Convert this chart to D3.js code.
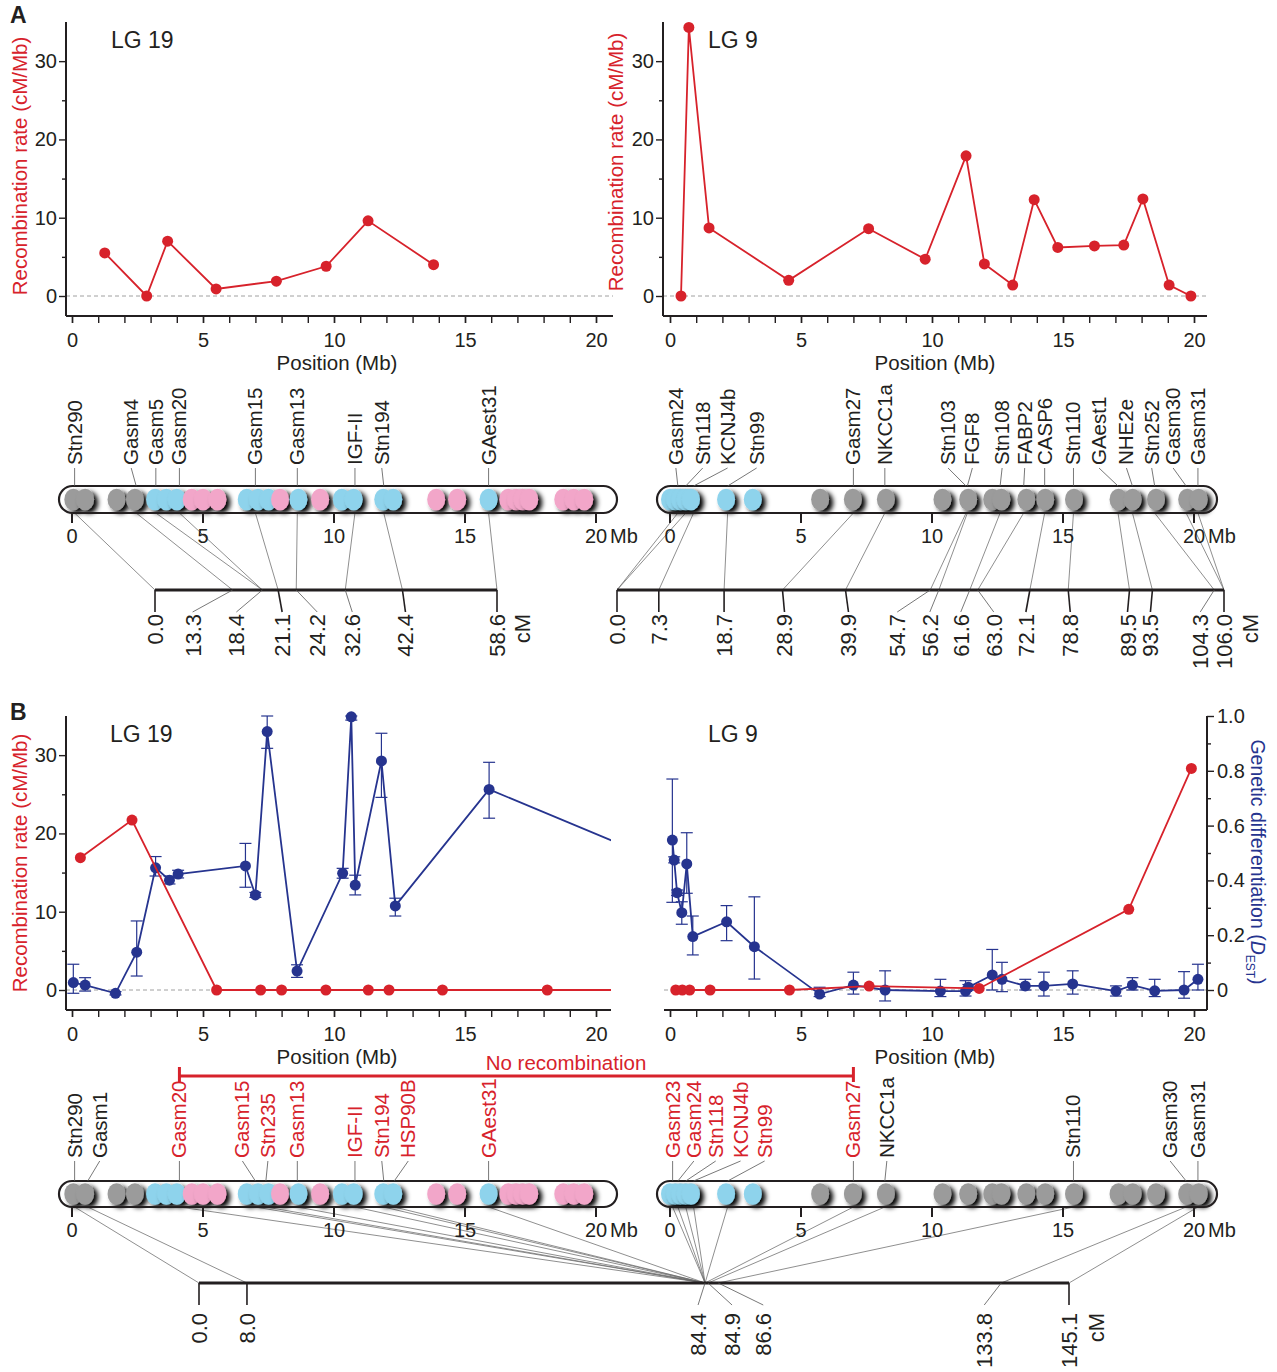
<!DOCTYPE html>
<html>
<head>
<meta charset="utf-8">
<title>Recombination and differentiation along LG19 and LG9</title>
<script src="https://cdn.jsdelivr.net/npm/d3@7/dist/d3.min.js"></script>
<style>
  html, body { margin: 0; padding: 0; background: #fff; }
  svg text { font-family: "Liberation Sans", Arial, Helvetica, sans-serif; fill: #231f20; }
</style>
</head>
<body>
<svg id="fig" width="1277" height="1372"></svg>
<script>
// ---------------- tick values ----------------
const MB_TICKS = [0, 5, 10, 15, 20];
const MB_MINOR = d3.range(0, 21, 1);
const RATE_TICKS = [0, 10, 20, 30];
const RATE_MINOR = [5, 15, 25];
const DEST_TICKS = [0, 0.2, 0.4, 0.6, 0.8, 1.0];
const DEST_MINOR = [0.1, 0.3, 0.5, 0.7, 0.9];

// ---------------- cross A: recombination rate (cM/Mb) ----------------
const lg19RateAPos = [1.25, 2.85, 3.65, 5.5, 7.8, 9.7, 11.3, 13.8];
const lg19RateAVal = [5.5, 0.0, 7.0, 0.9, 1.9, 3.8, 9.6, 4.0];
const lg9RateAPos = [0.42, 0.72, 1.49, 4.53, 7.58, 9.74, 11.3, 12.0, 13.08, 13.9, 14.8, 16.2, 17.32, 18.05, 19.05, 19.88];
const lg9RateAVal = [0.0, 34.3, 8.7, 2.0, 8.6, 4.7, 17.9, 4.1, 1.4, 12.3, 6.2, 6.4, 6.5, 12.4, 1.4, 0.0];

// ---------------- cross B: recombination rate (cM/Mb) ----------------
const lg19RateBPos = [0.32, 2.29, 5.52, 7.2, 8.0, 9.69, 11.31, 12.1, 14.14, 18.14, 22.0];
const lg19RateBVal = [16.9, 21.7, 0, 0, 0, 0, 0, 0, 0, 0, 0];
const lg9RateBPos = [0.22, 0.47, 0.75, 1.53, 4.56, 7.6, 11.8, 17.51, 19.9];
const lg9RateBVal = [0, 0, 0, 0, 0, 0.5, 0.2, 10.3, 28.3];

// ---------------- cross B: genetic differentiation D_EST (mean, lower, upper) ----------------
const lg19DestPos = [0.05, 0.5, 1.66, 2.47, 3.19, 3.72, 4.05, 6.62, 7.0, 7.45, 8.59, 10.33, 10.66, 10.81, 11.81, 12.34, 15.92, 22.0];
const lg19DestVal = [0.027, 0.018, -0.012, 0.138, 0.446, 0.401, 0.423, 0.453, 0.347, 0.943, 0.069, 0.426, 0.997, 0.383, 0.836, 0.307, 0.732, 0.49];
const lg19DestLo  = [-0.012, -0.004, -0.018, 0.051, 0.416, 0.387, 0.409, 0.375, 0.338, 0.882, 0.046, 0.408, 0.985, 0.347, 0.703, 0.270, 0.627, 0.49];
const lg19DestHi  = [0.094, 0.045, -0.006, 0.252, 0.487, 0.416, 0.437, 0.535, 0.356, 1.0, 0.092, 0.444, 1.0, 0.419, 0.937, 0.335, 0.831, 0.49];

const lg9DestPos = [0.09, 0.16, 0.27, 0.45, 0.64, 0.87, 2.16, 3.22, 5.71, 7.0, 8.21, 10.32, 11.28, 11.39, 12.3, 12.67, 13.56, 14.27, 15.37, 17.02, 17.65, 18.5, 19.62, 20.15];
const lg9DestVal = [0.547, 0.474, 0.355, 0.282, 0.46, 0.195, 0.249, 0.158, -0.015, 0.018, 0.0, -0.004, -0.004, 0.01, 0.055, 0.039, 0.015, 0.015, 0.022, -0.004, 0.018, -0.003, 0.0, 0.039];
const lg9DestLo  = [0.32, 0.464, 0.345, 0.24, 0.353, 0.128, 0.18, 0.04, -0.024, -0.015, -0.04, -0.024, -0.022, 0.0, 0.0, -0.006, 0.0, -0.022, -0.015, -0.022, 0.0, -0.024, -0.03, 0.0];
const lg9DestHi  = [0.77, 0.486, 0.365, 0.322, 0.574, 0.27, 0.308, 0.34, 0.01, 0.065, 0.07, 0.039, 0.034, 0.02, 0.148, 0.101, 0.039, 0.065, 0.07, 0.015, 0.045, 0.039, 0.067, 0.094];

// ---------------- physical maps: marker clusters (Mb, class) ----------------
const lg19BlobPos = [0.05, 0.5, 1.7, 2.4, 3.17, 3.6, 4.0, 4.57, 5.0, 5.55, 6.67, 7.1, 7.5, 7.94, 8.64, 9.47, 10.3, 10.75, 11.88, 12.26, 13.9, 14.7, 15.9, 16.65, 16.95, 17.2, 17.45, 18.75, 19.15, 19.55];
const lg19BlobType = ["n","n","n","n","b","b","b","p","p","p","b","b","b","p","b","p","b","b","b","b","p","p","b","p","p","p","p","p","p","p"];
const lg9BlobPos = [0.0, 0.2, 0.4, 0.6, 0.8, 2.14, 3.16, 5.73, 6.98, 8.24, 10.4, 11.38, 12.3, 12.65, 13.6, 14.32, 15.42, 17.12, 17.66, 18.55, 19.74, 20.18];
const lg9BlobType = ["b","b","b","b","b","b","b","n","n","n","n","n","n","n","n","n","n","n","n","n","n","n"];

// ---------------- cross A: markers, Mb position and map position (cM) ----------------
const lg19MarkersA = ["Stn290", "Gasm4", "Gasm5", "Gasm20", "Gasm15", "Gasm13", "IGF-II", "Stn194", "GAest31"];
const lg19MarkerMbA = [0.1, 2.45, 3.2, 4.1, 7.0, 8.6, 10.8, 11.9, 15.9];
const lg19MarkerCmA = [0.0, 13.3, 18.4, 18.4, 21.1, 24.2, 32.6, 42.4, 58.6];
const lg19CmTicksA = [0.0, 13.3, 18.4, 21.1, 24.2, 32.6, 42.4, 58.6];

const lg9MarkersA = ["Gasm24", "Stn118", "KCNJ4b", "Stn99", "Gasm27", "NKCC1a", "Stn103", "FGF8", "Stn108", "FABP2", "CASP6", "Stn110", "GAest1", "NHE2e", "Stn252", "Gasm30", "Gasm31"];
const lg9MarkerMbA = [0.3, 0.6, 0.9, 2.2, 7.0, 8.2, 11.3, 11.35, 12.6, 13.5, 14.3, 15.4, 17.1, 17.65, 18.5, 19.7, 20.15];
const lg9MarkerCmA = [0.0, 0.0, 7.3, 18.7, 28.9, 39.9, 54.7, 56.2, 61.6, 63.0, 72.1, 78.8, 89.5, 93.5, 104.3, 106.0, 106.0];
const lg9CmTicksA = [0.0, 7.3, 18.7, 28.9, 39.9, 54.7, 56.2, 61.6, 63.0, 72.1, 78.8, 89.5, 93.5, 104.3, 106.0];

// ---------------- cross B: markers (LG19 and LG9 form one linkage map) ----------------
const lg19MarkersB = ["Stn290", "Gasm1", "Gasm20", "Gasm15", "Stn235", "Gasm13", "IGF-II", "Stn194", "HSP90B", "GAest31"];
const lg19MarkerMbB = [0.1, 0.6, 4.1, 7.0, 7.4, 8.6, 10.8, 11.9, 12.3, 15.9];
const lg19MarkerCmB = [0.0, 8.0, 84.4, 84.4, 84.4, 84.4, 84.4, 84.4, 84.4, 84.4];
const lg19NoRecB = [false, false, true, true, true, true, true, true, true, true];

const lg9MarkersB = ["Gasm23", "Gasm24", "Stn118", "KCNJ4b", "Stn99", "Gasm27", "NKCC1a", "Stn110", "Gasm30", "Gasm31"];
const lg9MarkerMbB = [0.1, 0.3, 0.6, 0.9, 2.2, 7.0, 8.2, 15.4, 19.7, 20.15];
const lg9MarkerCmB = [84.4, 84.4, 84.4, 84.4, 84.4, 84.4, 84.9, 86.6, 133.8, 145.1];
const lg9NoRecB = [true, true, true, true, true, true, false, false, false, false];
const cmTicksB = [0.0, 8.0, 84.4, 84.9, 86.6, 133.8, 145.1];

// ---------------- layout: label offsets (px) to keep crowded labels readable ----------------
const lg19LabelNudgeA = [0, -5, 0, 0, 0, 0, 0, -2, 0];
const lg9LabelNudgeA = [-2, 17, 34, 29, 0, 0, -18, 5, 2, 1, 0, 0, -19, -6, -3, -13, 0];
const lg19CmNudgeA = [0, -40, -26, 4, 21, 7, 3, 0];
const lg9CmNudgeA = [0, 0, 0, 2, 3, -33, -9, -9, 16, -4, 2, -2, -2, -14, 0];
const lg19LabelNudgeB = [0, 12, 0, -13, 2, 0, 0, -2, 14, 0];
const lg9LabelNudgeB = [0, 16, 30, 47, 37, 0, 2, 0, -16, 0];
const cmNudgeB = [0, 0, -7, 24, 45, -17, 0];

// ---------------- styles ----------------
const RED = "#d7222b", BLUE = "#26348f", INK = "#231f20";
const BLOB_FILL = { n: "#9b9b9b", b: "#8ed3ec", p: "#f2a6c9" };
const FONT = "\"Liberation Sans\", Arial, Helvetica, sans-serif";

const svg = d3.select("#fig");
const defs = svg.append("defs");

// soft drop shading for the marker clusters
const shade = defs.append("filter").attr("id", "blobShade")
  .attr("x", "-60%").attr("y", "-60%").attr("width", "220%").attr("height", "220%");
shade.append("feGaussianBlur").attr("in", "SourceAlpha").attr("stdDeviation", 2.4).attr("result", "blur");
shade.append("feOffset").attr("in", "blur").attr("dx", 3.5).attr("dy", 3).attr("result", "off");
shade.append("feComponentTransfer").attr("in", "off").attr("result", "shadow")
  .append("feFuncA").attr("type", "linear").attr("slope", 1.0);
shade.append("feGaussianBlur").attr("in", "SourceGraphic").attr("stdDeviation", 0.6).attr("result", "soft");
const mg = shade.append("feMerge");
mg.append("feMergeNode").attr("in", "shadow");
mg.append("feMergeNode").attr("in", "soft");

function styleAxis(sel, size) {
  sel.select(".domain").remove();
  sel.selectAll(".tick line").attr("stroke", INK).attr("stroke-width", 1.4);
  sel.selectAll(".tick text").attr("font-size", size).attr("fill", INK).attr("font-family", FONT);
}

// ---------------- line chart of rate (and D_EST) along a linkage group ----------------
function rateChart(o) {
  const g = svg.append("g");
  const top = o.zeroY - 274, bottom = o.zeroY + 20;
  const x = d3.scaleLinear().domain([0, 20]).range([o.x0, o.x0 + 524]);
  const yR = d3.scaleLinear().domain([0, 35]).range([o.zeroY, top]);
  const yD = d3.scaleLinear().domain([0, 1]).range([o.zeroY, top]);

  const clipId = "clip-" + o.id;
  defs.append("clipPath").attr("id", clipId).append("rect")
    .attr("x", o.axisL).attr("y", top - 14).attr("width", o.axisR - o.axisL).attr("height", bottom - top + 14);

  // zero reference
  g.append("line").attr("x1", o.axisL).attr("x2", o.axisR).attr("y1", yR(0)).attr("y2", yR(0))
    .attr("stroke", "#a0a0a0").attr("stroke-width", 1).attr("stroke-dasharray", "4,3");

  // x axis
  g.append("line").attr("x1", o.axisL).attr("x2", o.axisR).attr("y1", bottom).attr("y2", bottom)
    .attr("stroke", INK).attr("stroke-width", 2);
  const xMinor = g.append("g").attr("transform", `translate(0,${bottom + 1})`)
    .call(d3.axisBottom(x).tickValues(MB_MINOR).tickSize(6).tickFormat(""));
  styleAxis(xMinor, 20);
  const xMajor = g.append("g").attr("transform", `translate(0,${bottom + 1})`)
    .call(d3.axisBottom(x).tickValues(MB_TICKS).tickSize(6).tickPadding(10).tickFormat(d3.format("d")));
  styleAxis(xMajor, 20);

  if (o.left) {
    g.append("line").attr("x1", o.axisL).attr("x2", o.axisL).attr("y1", top).attr("y2", bottom)
      .attr("stroke", INK).attr("stroke-width", 2);
    const yMin = g.append("g").attr("transform", `translate(${o.axisL},0)`)
      .call(d3.axisLeft(yR).tickValues(RATE_MINOR).tickSize(4).tickFormat(""));
    styleAxis(yMin, 20);
    const yMaj = g.append("g").attr("transform", `translate(${o.axisL},0)`)
      .call(d3.axisLeft(yR).tickValues(RATE_TICKS).tickSize(7).tickPadding(2).tickFormat(d3.format("d")));
    styleAxis(yMaj, 20);
    g.append("text").attr("transform", `translate(${o.yTitleX},${o.yTitleY}) rotate(-90)`)
      .attr("text-anchor", "middle").attr("font-size", 20.5).style("fill", RED)
      .text("Recombination rate (cM/Mb)");
  }
  if (o.right) {
    g.append("line").attr("x1", o.axisR).attr("x2", o.axisR).attr("y1", top).attr("y2", bottom)
      .attr("stroke", INK).attr("stroke-width", 2);
    const dMin = g.append("g").attr("transform", `translate(${o.axisR},0)`)
      .call(d3.axisRight(yD).tickValues(DEST_MINOR).tickSize(4).tickFormat(""));
    styleAxis(dMin, 20);
    const dMaj = g.append("g").attr("transform", `translate(${o.axisR},0)`)
      .call(d3.axisRight(yD).tickValues(DEST_TICKS).tickSize(7).tickPadding(3)
        .tickFormat(d => d === 0 ? "0" : d3.format(".1f")(d)));
    styleAxis(dMaj, 20);
    const t = g.append("text").attr("transform", `translate(${o.axisR + 44},${o.zeroY - 128}) rotate(90)`)
      .attr("text-anchor", "middle").attr("font-size", 19.5).style("fill", BLUE);
    t.append("tspan").text("Genetic differentiation (");
    t.append("tspan").attr("font-style", "italic").text("D");
    t.append("tspan").attr("font-size", 12).attr("dy", 5).text("EST");
    t.append("tspan").attr("dy", -5).text(")");
  }

  const plot = g.append("g").attr("clip-path", `url(#${clipId})`);
  const line = d3.line().x(d => x(d[0]));

  if (o.dest) {
    const pts = d3.zip(o.dest.pos, o.dest.val, o.dest.lo, o.dest.hi);
    const eb = plot.append("g").attr("stroke", BLUE).attr("stroke-width", 1.2);
    pts.filter(d => d[3] > d[2]).forEach(d => {
      const cx = x(d[0]);
      eb.append("line").attr("x1", cx).attr("x2", cx).attr("y1", yD(d[2])).attr("y2", yD(d[3]));
      eb.append("line").attr("x1", cx - 6).attr("x2", cx + 6).attr("y1", yD(d[2])).attr("y2", yD(d[2]));
      eb.append("line").attr("x1", cx - 6).attr("x2", cx + 6).attr("y1", yD(d[3])).attr("y2", yD(d[3]));
    });
    plot.append("path").datum(pts).attr("fill", "none").attr("stroke", BLUE).attr("stroke-width", 1.8)
      .attr("d", line.y(d => yD(d[1])));
    plot.append("g").selectAll("circle").data(pts).join("circle")
      .attr("cx", d => x(d[0])).attr("cy", d => yD(d[1])).attr("r", 5.5).attr("fill", BLUE);
  }

  const rp = d3.zip(o.rate.pos, o.rate.val);
  plot.append("path").datum(rp).attr("fill", "none").attr("stroke", RED).attr("stroke-width", 1.8)
    .attr("d", line.y(d => yR(d[1])));
  plot.append("g").selectAll("circle").data(rp).join("circle")
    .attr("cx", d => x(d[0])).attr("cy", d => yR(d[1])).attr("r", 5.5).attr("fill", RED);

  g.append("text").attr("x", o.x0 + 265).attr("y", bottom + 54).attr("text-anchor", "middle")
    .attr("font-size", 20.5).text("Position (Mb)");
  g.append("text").attr("x", o.lgX).attr("y", top + 26).attr("font-size", 23).text(o.lg);
  return x;
}

// ---------------- physical map with links to the genetic map ----------------
function chromosome(o) {
  const g = svg.append("g");
  const x = d3.scaleLinear().domain([0, 20]).range([o.x0, o.x0 + 524]);
  const cm = d3.scaleLinear().domain([0, o.cmMax]).range(o.cmRange);
  const barBottom = o.barTop + o.barH;
  const cy = o.barTop + o.barH / 2;

  // links from physical position to map position
  g.append("g").selectAll("line").data(d3.zip(o.mb, o.cmv)).join("line")
    .attr("x1", d => x(d[0])).attr("y1", barBottom).attr("x2", d => cm(d[1])).attr("y2", o.cmY)
    .attr("stroke", "#6a6a6a").attr("stroke-width", 0.75);

  // chromosome body and clusters
  g.append("rect").attr("x", o.barL).attr("y", o.barTop).attr("width", o.barR - o.barL)
    .attr("height", o.barH).attr("rx", o.barH / 2).attr("fill", "#fff");
  g.append("g").selectAll("ellipse").data(d3.zip(o.blobPos, o.blobType)).join("ellipse")
    .attr("cx", d => x(d[0])).attr("cy", cy).attr("rx", 9).attr("ry", 10.8)
    .attr("fill", d => BLOB_FILL[d[1]]).attr("filter", "url(#blobShade)");
  g.append("rect").attr("x", o.barL).attr("y", o.barTop).attr("width", o.barR - o.barL)
    .attr("height", o.barH).attr("rx", o.barH / 2).attr("fill", "none")
    .attr("stroke", INK).attr("stroke-width", 2.2);

  // Mb scale under the body
  const tk = g.append("g");
  tk.selectAll("line").data(MB_TICKS).join("line")
    .attr("x1", d => x(d)).attr("x2", d => x(d)).attr("y1", barBottom).attr("y2", barBottom + 10)
    .attr("stroke", INK).attr("stroke-width", 2);
  tk.selectAll("text").data(MB_TICKS).join("text")
    .attr("x", d => x(d)).attr("y", barBottom + 30).attr("text-anchor", "middle")
    .attr("font-size", 20).text(d => d);
  g.append("text").attr("x", x(20) + 14).attr("y", barBottom + 30).attr("font-size", 20).text("Mb");

  // marker names with leaders
  const mk = d3.zip(o.names, o.mb, o.nudge, o.colors);
  g.append("g").selectAll("line").data(mk).join("line")
    .attr("x1", d => x(d[1]) + d[2]).attr("y1", o.labelBottom + 3)
    .attr("x2", d => x(d[1])).attr("y2", o.barTop)
    .attr("stroke", "#555").attr("stroke-width", 0.8);
  g.append("g").selectAll("text").data(mk).join("text")
    .attr("transform", d => `translate(${x(d[1]) + d[2] + 7},${o.labelBottom}) rotate(-90)`)
    .attr("font-size", 20.5).style("fill", d => d[3]).text(d => d[0]);

  return { g, cm };
}

function cmAxis(o) {
  const g = svg.append("g");
  const cm = d3.scaleLinear().domain([0, o.cmMax]).range(o.cmRange);
  g.append("line").attr("x1", cm(0)).attr("x2", cm(o.cmMax)).attr("y1", o.cmY).attr("y2", o.cmY)
    .attr("stroke", INK).attr("stroke-width", 3);
  const lab = d3.zip(o.ticks, o.nudge);
  g.append("g").selectAll("line").data(lab).join("line")
    .attr("x1", d => cm(d[0])).attr("y1", o.cmY).attr("x2", d => cm(d[0]) + d[1]).attr("y2", o.cmY + 22)
    .attr("stroke", d => Math.abs(d[1]) < 5 ? INK : "#555")
    .attr("stroke-width", d => Math.abs(d[1]) < 5 ? 1.6 : 0.8);
  g.append("g").selectAll("text").data(lab).join("text")
    .attr("transform", d => `translate(${cm(d[0]) + d[1] + 8},${o.cmY + o.gap}) rotate(-90)`)
    .attr("text-anchor", "end").attr("font-size", 22).text(d => d3.format(".1f")(d[0]));
  g.append("text").attr("transform", `translate(${cm(o.cmMax) + o.unitDx + 8},${o.cmY + o.gap}) rotate(-90)`)
    .attr("text-anchor", "end").attr("font-size", 22).text("cM");
}

// ================= Panel A =================
svg.append("text").attr("x", 10).attr("y", 23).attr("font-size", 23).attr("font-weight", "bold").text("A");

rateChart({ id: "a19", x0: 72, axisL: 66, axisR: 613, zeroY: 296, left: true,
  yTitleX: 27, yTitleY: 166, lg: "LG 19", lgX: 111,
  rate: { pos: lg19RateAPos, val: lg19RateAVal } });
rateChart({ id: "a9", x0: 670, axisL: 663, axisR: 1207, zeroY: 296, left: true,
  yTitleX: 623, yTitleY: 162, lg: "LG 9", lgX: 708,
  rate: { pos: lg9RateAPos, val: lg9RateAVal } });

chromosome({ x0: 72, barL: 59, barR: 617, barTop: 486, barH: 27, labelBottom: 465,
  blobPos: lg19BlobPos, blobType: lg19BlobType,
  names: lg19MarkersA, mb: lg19MarkerMbA, cmv: lg19MarkerCmA, nudge: lg19LabelNudgeA,
  colors: lg19MarkersA.map(() => INK),
  cmMax: 58.6, cmRange: [155, 497], cmY: 590 });
cmAxis({ cmMax: 58.6, cmRange: [155, 497], cmY: 590, gap: 24, unitDx: 25,
  ticks: lg19CmTicksA, nudge: lg19CmNudgeA });

chromosome({ x0: 670, barL: 657, barR: 1217, barTop: 486, barH: 27, labelBottom: 465,
  blobPos: lg9BlobPos, blobType: lg9BlobType,
  names: lg9MarkersA, mb: lg9MarkerMbA, cmv: lg9MarkerCmA, nudge: lg9LabelNudgeA,
  colors: lg9MarkersA.map(() => INK),
  cmMax: 106.0, cmRange: [617, 1224], cmY: 590 });
cmAxis({ cmMax: 106.0, cmRange: [617, 1224], cmY: 590, gap: 24, unitDx: 26,
  ticks: lg9CmTicksA, nudge: lg9CmNudgeA });

// ================= Panel B =================
svg.append("text").attr("x", 10).attr("y", 720).attr("font-size", 23).attr("font-weight", "bold").text("B");

const xB19 = rateChart({ id: "b19", x0: 72, axisL: 66, axisR: 611, zeroY: 990, left: true,
  yTitleX: 27, yTitleY: 863, lg: "LG 19", lgX: 110,
  rate: { pos: lg19RateBPos, val: lg19RateBVal },
  dest: { pos: lg19DestPos, val: lg19DestVal, lo: lg19DestLo, hi: lg19DestHi } });
const xB9 = rateChart({ id: "b9", x0: 670, axisL: 664, axisR: 1207, zeroY: 990, left: false, right: true,
  lg: "LG 9", lgX: 708,
  rate: { pos: lg9RateBPos, val: lg9RateBVal },
  dest: { pos: lg9DestPos, val: lg9DestVal, lo: lg9DestLo, hi: lg9DestHi } });

// span of markers without recombination (Gasm20 on LG19 to Gasm27 on LG9)
const nrL = xB19(lg19MarkerMbB[2]), nrR = xB9(lg9MarkerMbB[5]);
const nr = svg.append("g").attr("stroke", RED).attr("stroke-width", 3);
nr.append("line").attr("x1", nrL).attr("x2", nrR).attr("y1", 1076).attr("y2", 1076);
nr.append("line").attr("x1", nrL).attr("x2", nrL).attr("y1", 1067).attr("y2", 1082);
nr.append("line").attr("x1", nrR).attr("x2", nrR).attr("y1", 1067).attr("y2", 1082);
svg.append("text").attr("x", 566).attr("y", 1070).attr("text-anchor", "middle")
  .attr("font-size", 20.5).style("fill", RED).text("No recombination");

chromosome({ x0: 72, barL: 59, barR: 617, barTop: 1181, barH: 26, labelBottom: 1158,
  blobPos: lg19BlobPos, blobType: lg19BlobType,
  names: lg19MarkersB, mb: lg19MarkerMbB, cmv: lg19MarkerCmB, nudge: lg19LabelNudgeB,
  colors: lg19NoRecB.map(f => f ? RED : INK),
  cmMax: 145.1, cmRange: [199, 1069], cmY: 1283 });
chromosome({ x0: 670, barL: 657, barR: 1217, barTop: 1181, barH: 26, labelBottom: 1158,
  blobPos: lg9BlobPos, blobType: lg9BlobType,
  names: lg9MarkersB, mb: lg9MarkerMbB, cmv: lg9MarkerCmB, nudge: lg9LabelNudgeB,
  colors: lg9NoRecB.map(f => f ? RED : INK),
  cmMax: 145.1, cmRange: [199, 1069], cmY: 1283 });
cmAxis({ cmMax: 145.1, cmRange: [199, 1069], cmY: 1283, gap: 30, unitDx: 27,
  ticks: cmTicksB, nudge: cmNudgeB });
</script>
</body>
</html>
